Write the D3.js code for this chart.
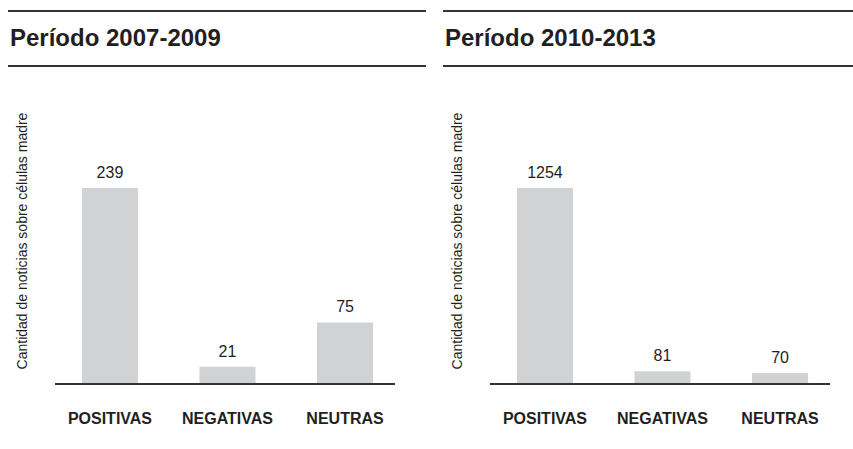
<!DOCTYPE html>
<html>
<head>
<meta charset="utf-8">
<script src="https://cdn.jsdelivr.net/npm/d3@7"></script>
<style>
  body { margin: 0; background: #fff; }
  text { font-family: "Liberation Sans", Arial, Helvetica, sans-serif; fill: #231f20; }
</style>
</head>
<body>
<div id="chart"></div>
<script>
// data
const categories = ["POSITIVAS", "NEGATIVAS", "NEUTRAS"];
const titles = ["Período 2007-2009", "Período 2010-2013"];
const values2007 = [239, 21, 75];
const values2010 = [1254, 81, 70];
const yLabel = "Cantidad de noticias sobre células madre";

const panels = [
  { title: titles[0], values: values2007, offset: 0, lineEnd: 426 },
  { title: titles[1], values: values2010, offset: 435, lineEnd: 853 }
];

const width = 853, height = 449;
const barColor = "#d1d2d4";

const svg = d3.select("#chart").append("svg")
    .attr("width", width)
    .attr("height", height);

function drawPanel(p) {
  const g = svg.append("g").attr("transform", `translate(${p.offset},0)`);
  const lineEnd = p.lineEnd - p.offset;

  // header rules + title
  g.append("line")
      .attr("x1", 8).attr("x2", lineEnd)
      .attr("y1", 11).attr("y2", 11)
      .attr("stroke", "#333").attr("stroke-width", 2);
  g.append("line")
      .attr("x1", 8).attr("x2", lineEnd)
      .attr("y1", 66).attr("y2", 66)
      .attr("stroke", "#333").attr("stroke-width", 2);
  g.append("text")
      .attr("x", 10).attr("y", 46)
      .attr("font-size", 24)
      .attr("font-weight", "bold")
      .text(p.title);

  // scales
  const xScale = d3.scaleBand()
      .domain(categories)
      .range([57.5, 397.5])
      .paddingInner(0.523)
      .paddingOuter(0.208);

  const yScale = d3.scaleLinear()
      .domain([0, d3.max(p.values)])
      .range([384, 188]);

  // bars
  g.selectAll("rect.bar")
    .data(p.values)
    .join("rect")
      .attr("class", "bar")
      .attr("x", (d, i) => xScale(categories[i]))
      .attr("width", xScale.bandwidth())
      .attr("y", d => yScale(d))
      .attr("height", d => yScale(0) - yScale(d))
      .attr("fill", barColor);

  // value labels
  g.selectAll("text.val")
    .data(p.values)
    .join("text")
      .attr("class", "val")
      .attr("x", (d, i) => xScale(categories[i]) + xScale.bandwidth() / 2)
      .attr("y", d => yScale(d) - 10)
      .attr("text-anchor", "middle")
      .attr("font-size", 16)
      .text(d => d);

  // baseline
  g.append("line")
      .attr("x1", 55).attr("x2", 395)
      .attr("y1", yScale(0)).attr("y2", yScale(0))
      .attr("stroke", "#333").attr("stroke-width", 2);

  // category labels
  g.selectAll("text.cat")
    .data(categories)
    .join("text")
      .attr("class", "cat")
      .attr("x", d => xScale(d) + xScale.bandwidth() / 2)
      .attr("y", 424)
      .attr("text-anchor", "middle")
      .attr("font-size", 16)
      .attr("font-weight", "bold")
      .text(d => d);

  // y label
  g.append("text")
      .attr("transform", "translate(27,241) rotate(-90)")
      .attr("text-anchor", "middle")
      .attr("font-size", 14)
      .text(yLabel);
}

panels.forEach(drawPanel);
</script>
</body>
</html>
